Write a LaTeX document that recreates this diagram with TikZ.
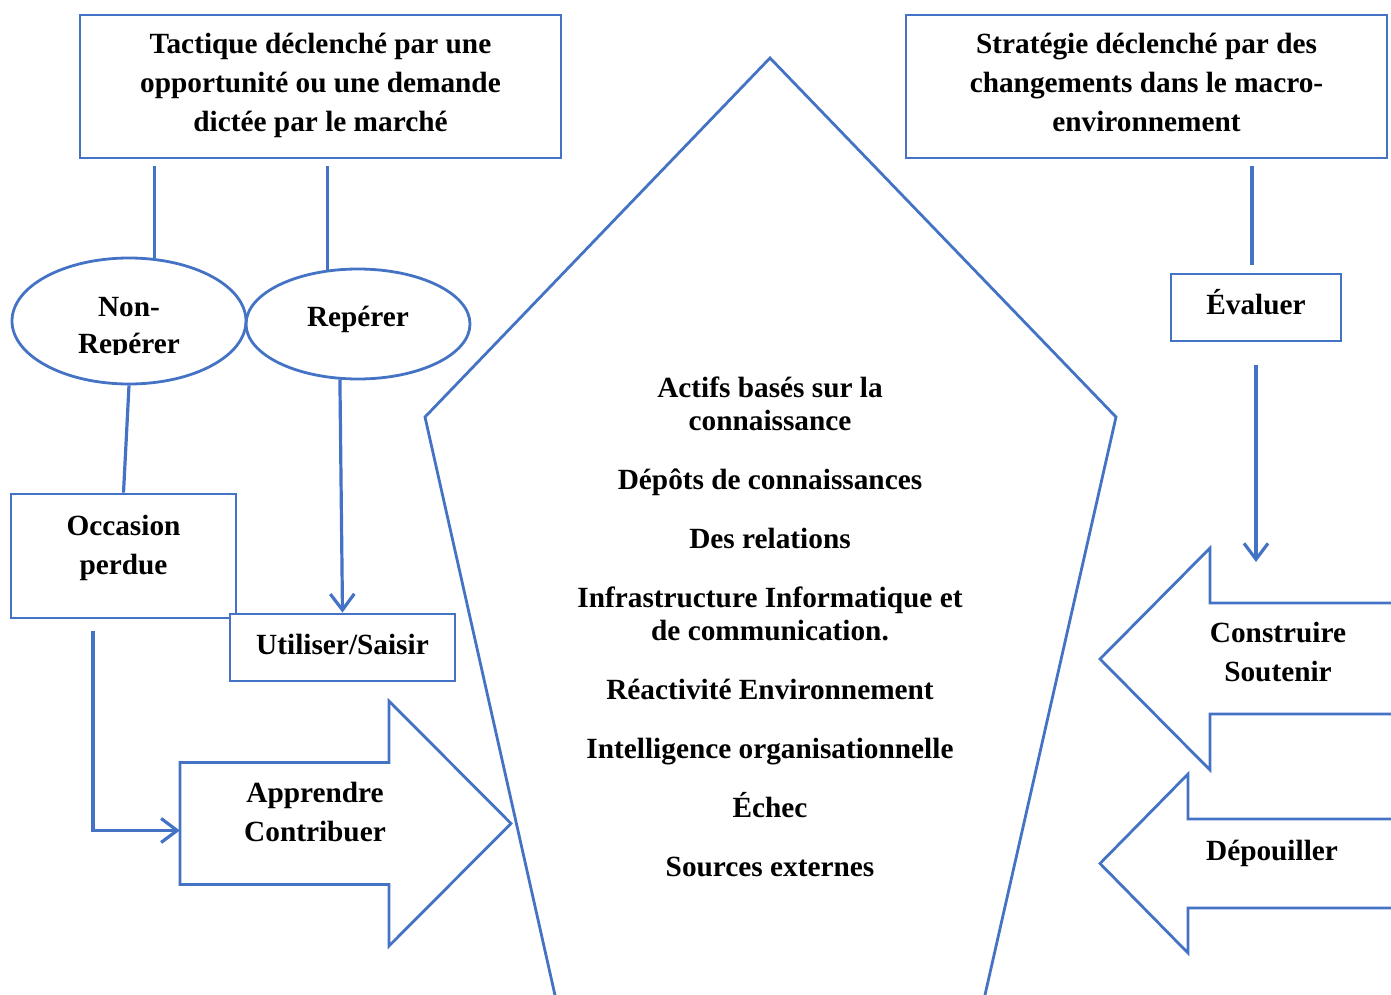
\documentclass[tikz,border=0pt]{standalone}
\usepackage{fontspec}
\setmainfont{Liberation Serif}
\usetikzlibrary{shapes.geometric,arrows.meta,calc}
\definecolor{blu}{HTML}{4472C4}
\begin{document}
\begin{tikzpicture}[x=1pt,y=-1pt,
  every node/.style={font=\bfseries\fontsize{29.3}{39}\selectfont, inner sep=0pt, align=center},
  box/.style={draw=blu, line width=2.8pt, fill=white},
  ell/.style={ellipse, draw=blu, line width=2.8pt, inner sep=0pt},
  conn/.style={draw=blu, line width=3.2pt},
  arr/.style={conn, -{Straight Barb[length=16pt,width=24pt]}},
  blockarrow/.style={draw=blu, line width=2.8pt, line join=miter}]
\useasboundingbox (0,0) rectangle (1391,995);
\clip (0,0) rectangle (1391,995);

% top boxes
\node[box, minimum width=481, minimum height=143] (tac) at (320.5,86.5) {};
\node (tact) at (320.5,85.5)
  {Tactique déclenché par une\\opportunité ou une demande\\dictée par le marché};
\node[box, minimum width=481, minimum height=143] (strat) at (1146.5,86.5) {};
\node (stratt) at (1146.5,82.5)
  {Stratégie déclenché par des\\changements dans le macro-\\environnement};

% ellipses
\node[ell, minimum width=234, minimum height=126] (nonrep) at (129,321) {};
\node[ell, minimum width=224, minimum height=110] (rep) at (358,324) {};
\begin{scope}
  \clip (0,0) rectangle (1391,354);
  \node[font=\bfseries\fontsize{29.3}{37}\selectfont] (nonrept) at (129,328.5) {Non-\\Repérer};
\end{scope}
\node (rept) at (358,319) {Repérer};

% left boxes
\node[box, minimum width=225, minimum height=124] (occ) at (123.5,556) {};
\node (occt) at (123.5,547.5) {Occasion\\perdue};
\node[box, minimum width=225, minimum height=67] (util) at (342.5,647.5) {};
\node (utilt) at (342.5,644.5) {Utiliser/Saisir};

% Apprendre block arrow
\draw[blockarrow, fill=white] (180,762.5) -- (389,762.5) -- (389,701) -- (511,823.5)
  -- (389,946) -- (389,884.5) -- (180,884.5) -- cycle;
\node[minimum width=209, minimum height=122] (app) at (284.5,823.5) {};
\node (appt) at (315,812.5) {Apprendre\\Contribuer};

% pentagon
\draw[blockarrow] (557.2,1005) -- (425,417) -- (770,58) -- (1116,417) -- (982.7,1005);
\node[font=\bfseries\fontsize{29.3}{33}\selectfont] (assets) at (770,626.5)
  {Actifs basés sur la\\connaissance\\[26pt]
   Dépôts de connaissances\\[26pt]
   Des relations\\[26pt]
   Infrastructure Informatique et\\de communication.\\[26pt]
   Réactivité Environnement\\[26pt]
   Intelligence organisationnelle\\[26pt]
   Échec\\[26pt]
   Sources externes};

% right side
\node[box, minimum width=170, minimum height=67] (eva) at (1256,307.5) {};
\node (evat) at (1256,302.5) {Évaluer};
\draw[blockarrow] (1420,603) -- (1210,603) -- (1210,548) -- (1100,659)
  -- (1210,770) -- (1210,714) -- (1420,714);
\node (cons) at (1278,652.5) {Construire\\Soutenir};
\draw[blockarrow] (1420,819) -- (1188,819) -- (1188,774) -- (1100,863.5)
  -- (1188,953) -- (1188,908) -- (1420,908);
\node (depo) at (1272,853) {Dépouiller};
\coordinate (evaend) at (1256,562);

% connectors
\draw[conn] (nonrep.68 |- tac.south) ++(0,7) -- (nonrep.68);
\draw[conn] (rep.119.5 |- tac.south) ++(0,7) -- (rep.119.5);
\draw[conn] (nonrep.south) -- (occ.north);
\draw[arr] (rep.-108) -- (util.north);
\draw[arr] (occ.south) ++(-30.5,12) |- ([yshift=-7pt]app.west);
\draw[conn] ($(strat.south -| eva.north)+(-4,7)$) -- ($(eva.north)+(-4,-8)$);
\draw[arr] ($(eva.south)+(0,23)$) -- (evaend);
\end{tikzpicture}
\end{document}
